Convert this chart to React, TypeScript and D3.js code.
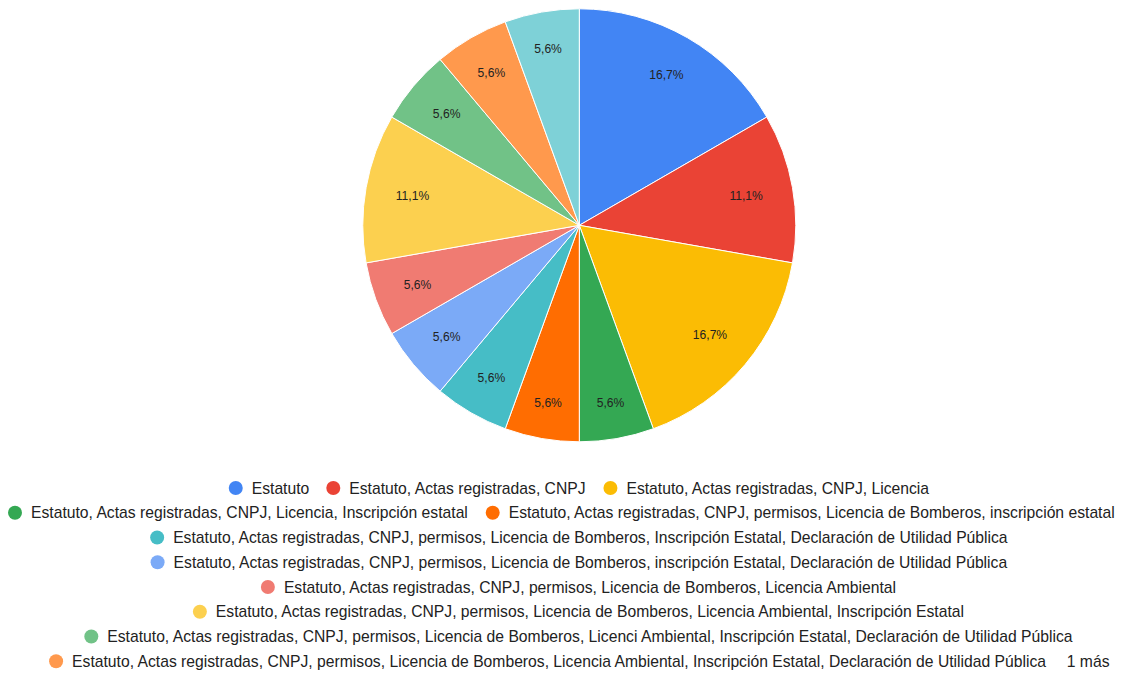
import React from 'react';
import * as d3 from 'd3';

const categories: string[] = [
  'Estatuto',
  'Estatuto, Actas registradas, CNPJ',
  'Estatuto, Actas registradas, CNPJ, Licencia',
  'Estatuto, Actas registradas, CNPJ, Licencia, Inscripción estatal',
  'Estatuto, Actas registradas, CNPJ, permisos, Licencia de Bomberos, inscripción estatal',
  'Estatuto, Actas registradas, CNPJ, permisos, Licencia de Bomberos, Inscripción Estatal, Declaración de Utilidad Pública',
  'Estatuto, Actas registradas, CNPJ, permisos, Licencia de Bomberos, inscripción Estatal, Declaración de Utilidad Pública',
  'Estatuto, Actas registradas, CNPJ, permisos, Licencia de Bomberos, Licencia Ambiental',
  'Estatuto, Actas registradas, CNPJ, permisos, Licencia de Bomberos, Licencia Ambiental, Inscripción Estatal',
  'Estatuto, Actas registradas, CNPJ, permisos, Licencia de Bomberos, Licenci Ambiental, Inscripción Estatal, Declaración de Utilidad Pública',
  'Estatuto, Actas registradas, CNPJ, permisos, Licencia de Bomberos, Licencia Ambiental, Inscripción Estatal, Declaración de Utilidad Pública',
  'Estatuto, Actas registradas, CNPJ, permisos, Licencia de Bomberos, Licencia Ambiental, Inscripción Estatal, Declaración de Utilidad Pública, otros',
];

const values: number[] = [3, 2, 3, 1, 1, 1, 1, 1, 2, 1, 1, 1];

const colors: string[] = [
  '#4285f4', '#ea4335', '#fbbc04', '#34a853', '#ff6d01', '#46bdc6',
  '#7baaf7', '#f07b72', '#fcd04f', '#71c287', '#ff994d', '#7ed1d7',
];

const moreLabel = 'más';

const W = 1123;
const H = 673;
const CX = 579.3;
const CY = 225.3;
const R = 216.5;
const FONT = '"Liberation Sans", Arial, sans-serif';
const LABEL_SIZE = 12.1;
const LEGEND_SIZE = 15.7;

let ctx: CanvasRenderingContext2D | null = null;
function measure(text: string, size: number): number {
  if (!ctx) ctx = document.createElement('canvas').getContext('2d');
  if (!ctx) return text.length * size * 0.5;
  ctx.font = `${size}px ${FONT}`;
  return ctx.measureText(text).width;
}

export default function App() {
  const total = d3.sum(values);
  const pie = d3.pie<number>().sort(null).value((d) => d)(values);
  const arc = d3.arc<d3.PieArcDatum<number>>().innerRadius(0).outerRadius(R);

  const fmt = (v: number) => ((v / total) * 100).toFixed(1).replace('.', ',') + '%';

  // Legend layout
  const DOT_R = 7;
  const TEXT_OFF = 23;
  const ITEM_GAP = 17;
  const MAX_W = 1112;
  const MAX_ROWS = 8;
  const ROW0 = 488;
  const ROW_H = 24.75;

  type Item = { i: number; w: number; tw: number };
  const rows: Item[][] = [];
  let cur: Item[] = [];
  let curW = 0;
  categories.forEach((c, i) => {
    const tw = measure(c, LEGEND_SIZE);
    const w = TEXT_OFF + tw;
    if (cur.length && curW + ITEM_GAP + w > MAX_W) {
      rows.push(cur);
      cur = [];
      curW = 0;
    }
    curW += (cur.length ? ITEM_GAP : 0) + w;
    cur.push({ i, w, tw });
  });
  if (cur.length) rows.push(cur);
  const shownRows = rows.slice(0, MAX_ROWS);
  const hidden = d3.sum(rows.slice(MAX_ROWS), (r) => r.length);
  const moreText = hidden > 0 ? `${hidden} ${moreLabel}` : '';
  const moreW = moreText ? measure(moreText, LEGEND_SIZE) : 0;

  const legendEls: React.ReactNode[] = [];
  shownRows.forEach((row, ri) => {
    let rowW = d3.sum(row, (d) => d.w) + ITEM_GAP * (row.length - 1);
    const isLast = ri === shownRows.length - 1 && moreText;
    if (isLast) rowW += 19 + moreW;
    let x = CX - rowW / 2;
    if (x + rowW > W - 9) x = W - 9 - rowW;
    if (x < 8) x = 8;
    const y = ROW0 + ri * ROW_H;
    row.forEach((it) => {
      legendEls.push(
        <g key={`l${it.i}`}>
          <circle cx={x + DOT_R} cy={y} r={DOT_R} fill={colors[it.i]} />
          <text x={x + TEXT_OFF} y={y} dy="0.36em" fontSize={LEGEND_SIZE} fontFamily={FONT} fill="#222">
            {categories[it.i]}
          </text>
        </g>
      );
      x += it.w + ITEM_GAP;
    });
    if (isLast) {
      legendEls.push(
        <text key="more" x={x - ITEM_GAP + 19} y={y} dy="0.36em" fontSize={LEGEND_SIZE} fontFamily={FONT} fill="#222">
          {moreText}
        </text>
      );
    }
  });

  return (
    <svg width={W} height={H} style={{ position: 'absolute', left: 0, top: 0, background: '#fff' }}>
      <g transform={`translate(${CX},${CY})`}>
        {pie.map((d, i) => (
          <path key={i} d={arc(d) || ''} fill={colors[i]} stroke="#fff" strokeWidth={1} />
        ))}
        {pie.map((d, i) => {
          const label = fmt(d.data);
          const mid = (d.startAngle + d.endAngle) / 2;
          const hw = measure(label, LABEL_SIZE) / 2;
          const hh = 4.5;
          const r = 0.862 * R - hw * Math.abs(Math.sin(mid)) - hh * Math.abs(Math.cos(mid));
          const x = r * Math.sin(mid);
          const y = -r * Math.cos(mid);
          return (
            <text key={`t${i}`} x={x} y={y} dy="0.36em" textAnchor="middle" fontSize={LABEL_SIZE} fontFamily={FONT} fill="#222">
              {label}
            </text>
          );
        })}
      </g>
      {legendEls}
    </svg>
  );
}
